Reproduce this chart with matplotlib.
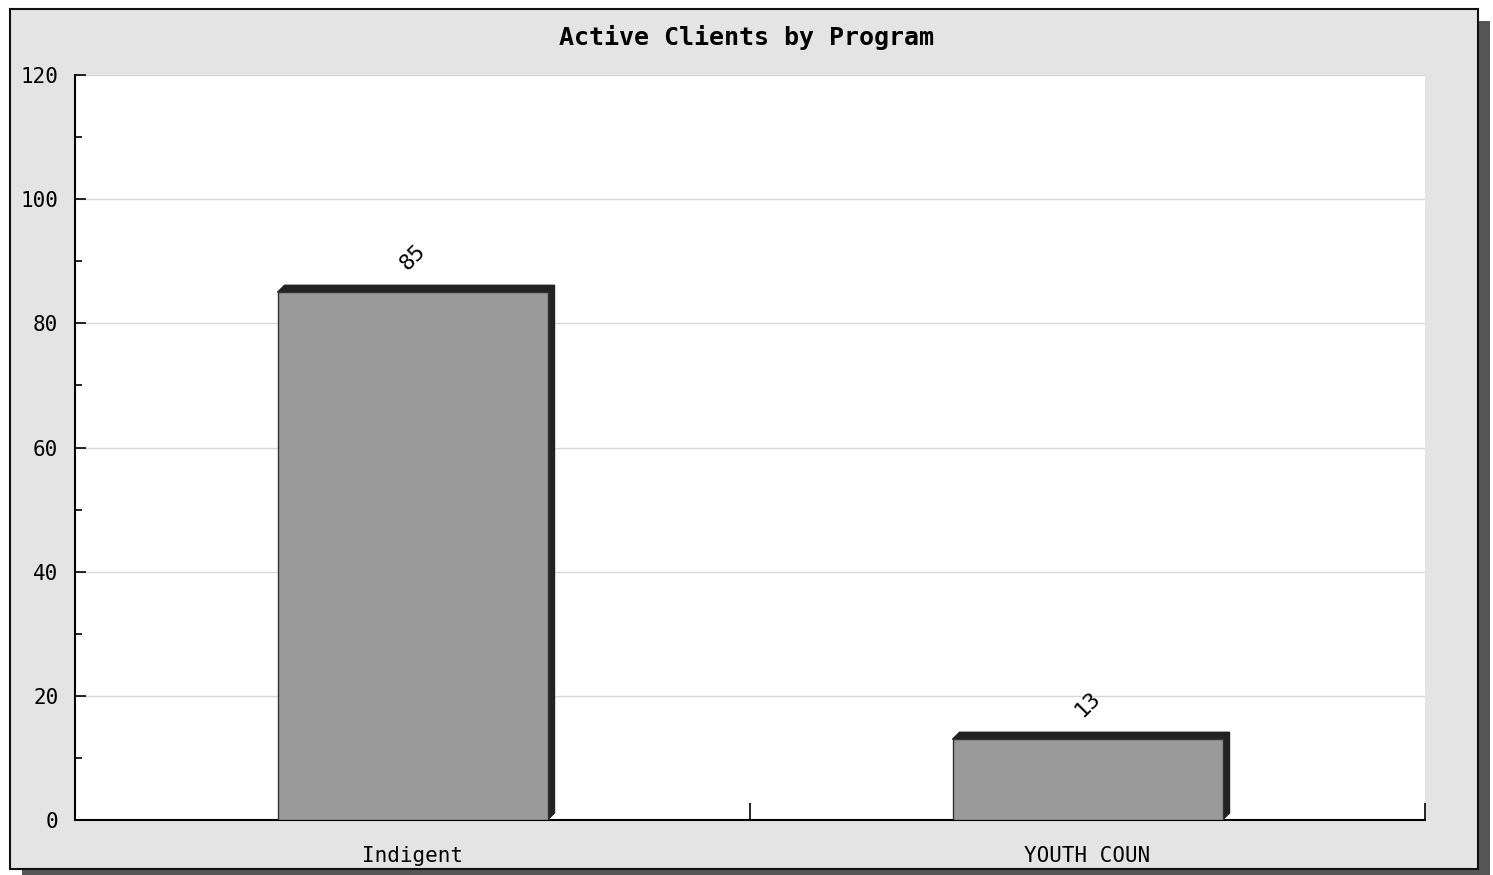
import matplotlib
matplotlib.use("Agg")
import matplotlib.pyplot as plt
from matplotlib.patches import Rectangle, Polygon
from matplotlib.ticker import MultipleLocator

programs = ["Indigent", "YOUTH COUN"]
clients = [85, 13]
title = "Active Clients by Program"

W, H = 1493, 875
PANEL = "#e4e4e4"
BAR = "#9a9a9a"
DEPTH = "#222222"
MONO = "DejaVu Sans Mono"

fig = plt.figure(figsize=(W / 100, H / 100), dpi=100)
fig.patch.set_facecolor("white")


def px(x, y, w, h):
    # pixel box (top-left origin) -> figure fraction
    return (x / W, 1 - (y + h) / H), w / W, h / H


# drop shadow and panel
(x0, y0), w, h = px(22, 21, 1468, 860)
fig.patches.append(Rectangle((x0, y0), w, h, transform=fig.transFigure,
                             facecolor="#555555", edgecolor="none", zorder=-2))
(x0, y0), w, h = px(10, 9, 1468, 860)
fig.patches.append(Rectangle((x0, y0), w, h, transform=fig.transFigure,
                             facecolor=PANEL, edgecolor="#111111", lw=1.5, zorder=-1))

ax = fig.add_axes([75 / W, 1 - 820 / H, 1350 / W, 745 / H])
ax.set_zorder(2)
ax.set_facecolor("white")
ax.set_xlim(0, len(programs))
ax.set_ylim(0, 120)

ax.yaxis.set_major_locator(MultipleLocator(20))
ax.yaxis.set_minor_locator(MultipleLocator(10))
ax.grid(axis="y", which="major", color="#d8d8d8", lw=1)
ax.set_axisbelow(True)

ax.set_xticks(range(len(programs) + 1))
ax.set_xticklabels([])
ax.set_xticks([i + 0.5 for i in range(len(programs))], minor=True)
ax.set_xticklabels(programs, minor=True, fontsize=15, family=MONO)
ax.tick_params(axis="x", which="major", direction="in", length=12, width=1.2)
ax.tick_params(axis="x", which="minor", length=0, pad=19)
ax.tick_params(axis="y", which="both", direction="in", width=1.2)
ax.tick_params(axis="y", which="major", length=8, labelsize=15, pad=12)
ax.tick_params(axis="y", which="minor", length=5)
for lab in ax.get_yticklabels():
    lab.set_family(MONO)

ax.spines[["top", "right"]].set_visible(False)
ax.spines[["left", "bottom"]].set_linewidth(1.5)

# 3D-ish bars: depth offset in data units
bw = 0.4
dx = 7 / 1350 * len(programs)
dy = 7 / 745 * 120
for i, v in enumerate(clients):
    left = i + 0.5 - bw / 2
    ax.add_patch(Polygon([(left, v), (left + dx, v + dy), (left + bw + dx, v + dy),
                          (left + bw + dx, dy), (left + bw, 0), (left + bw, v)],
                         closed=True, facecolor=DEPTH, edgecolor=DEPTH, zorder=3))
    ax.bar(i + 0.5, v, width=bw, color=BAR, edgecolor="#333333", lw=1.0, zorder=4)
    ax.text(i + 0.5, v + 3.0, str(v), rotation=45, ha="center", va="bottom",
            fontsize=16, family=MONO, zorder=5)

fig.text(0.5, 1 - 37 / H, title, ha="center", va="center",
         fontsize=18, fontweight="bold", family=MONO)

fig.savefig("out.png", dpi=100)
